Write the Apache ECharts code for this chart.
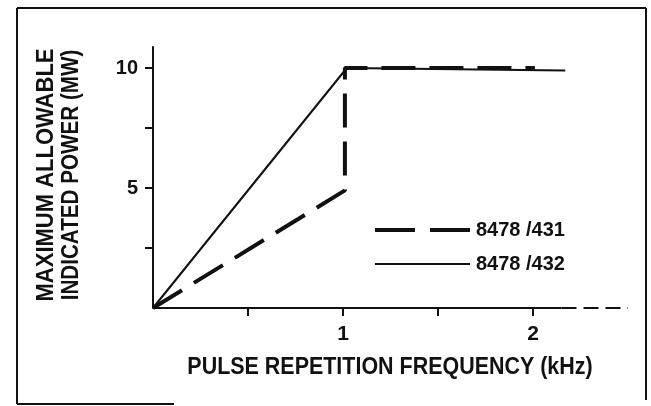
<!DOCTYPE html>
<html>
<head>
<meta charset="utf-8">
<script src="https://cdn.jsdelivr.net/npm/echarts@6/dist/echarts.min.js"></script>
<style>
html,body{margin:0;padding:0;background:#fff;}
#chart{width:651px;height:406px;}
</style>
</head>
<body>
<div id="chart"></div>
<script>
// Data
const seriesNames = ['8478 /431', '8478 /432'];
const series431 = [[0, 0], [1.01, 4.9], [1.01, 10], [2.01, 10]];
const series432 = [[0, 0], [1.02, 10], [2.17, 9.9]];
const baselineSolid = [[0, 0], [2.15, 0]];
const baselineDashed = [[2.15, 0], [2.5, 0]];
const xTickValues = [0.5, 1, 1.5, 2];
const xLabelValues = [1, 2];
const yTickValues = [2.5, 5, 7.5, 10];
const yLabelValues = [5, 10];
const xTitle = 'PULSE REPETITION FREQUENCY (kHz)';
const yTitleLines = ['MAXIMUM ALLOWABLE', 'INDICATED POWER (MW)'];

const ink = '#111';
const font = '"Liberation Sans", Arial, sans-serif';

const chart = echarts.init(document.getElementById('chart'), null, {renderer: 'canvas'});
chart.setOption({
  backgroundColor: '#fff',
  animation: false,
  grid: {left: 153, right: 23, top: 47, bottom: 98},
  legend: {
    orient: 'vertical',
    left: 370,
    top: 215,
    itemWidth: 95,
    itemHeight: 4,
    itemGap: 14,
    itemStyle: {color: ink, borderWidth: 0},
    textStyle: {color: ink, fontFamily: font, fontWeight: 'bold', fontSize: 20, padding: [0, 0, 0, 1]},
    data: [
      {name: seriesNames[0], icon: 'path://M0,0h40v4h-40zM55,0h40v4h-40z'},
      {name: seriesNames[1], icon: 'path://M0,0h0.05v4h-0.05zM0,1.1h95v1.8h-95z'}
    ]
  },
  xAxis: {
    type: 'value', min: 0, max: 2.5,
    axisLine: {show: false},
    splitLine: {show: false},
    axisTick: {show: true, customValues: xTickValues, length: 8, lineStyle: {color: ink, width: 2}},
    axisLabel: {customValues: xLabelValues, margin: 16, color: ink, fontFamily: font, fontWeight: 'bold', fontSize: 21}
  },
  yAxis: {
    type: 'value', min: 0, max: 10.875,
    axisLine: {show: true, lineStyle: {color: ink, width: 2}},
    splitLine: {show: false},
    axisTick: {show: true, customValues: yTickValues, length: 8, lineStyle: {color: ink, width: 2}},
    axisLabel: {customValues: yLabelValues, margin: 15, color: ink, fontFamily: font, fontWeight: 'bold', fontSize: 20}
  },
  series: [
    {name: seriesNames[0], type: 'line', data: series431, symbol: 'none', z: 4,
     lineStyle: {color: ink, width: 4, type: [34, 14]}, itemStyle: {color: ink}},
    {name: seriesNames[1], type: 'line', data: series432, symbol: 'none', z: 3,
     lineStyle: {color: ink, width: 2}, itemStyle: {color: ink}},
    {name: 'baseSolid', type: 'line', data: baselineSolid, symbol: 'none', silent: true,
     lineStyle: {color: ink, width: 2}},
    {name: 'baseDashed', type: 'line', data: baselineDashed, symbol: 'none', silent: true, clip: false,
     lineStyle: {color: ink, width: 2, type: [15, 7]}}
  ],
  graphic: [
    {type: 'line', shape: {x1: 17, y1: 8, x2: 646, y2: 8}, style: {stroke: ink, lineWidth: 2}},
    {type: 'line', shape: {x1: 17, y1: 8, x2: 17, y2: 404}, style: {stroke: ink, lineWidth: 2}},
    {type: 'line', shape: {x1: 646, y1: 8, x2: 646, y2: 400}, style: {stroke: ink, lineWidth: 2}},
    {type: 'line', shape: {x1: 17, y1: 404, x2: 174, y2: 404}, style: {stroke: ink, lineWidth: 2}},
    {type: 'text', x: 390, y: 367, scaleX: 0.894,
     style: {text: xTitle, x: 0, y: 0, align: 'center', verticalAlign: 'middle', fill: ink,
             font: 'bold 24px ' + font}},
    {type: 'text', x: 46, y: 175, rotation: Math.PI / 2, scaleX: 0.917,
     style: {text: yTitleLines[0], x: 0, y: 0, align: 'center', verticalAlign: 'middle', fill: ink,
             font: 'bold 24px ' + font}},
    {type: 'text', x: 71, y: 175, rotation: Math.PI / 2, scaleX: 0.86,
     style: {text: yTitleLines[1], x: 0, y: 0, align: 'center', verticalAlign: 'middle', fill: ink,
             font: 'bold 24px ' + font}}
  ]
});
</script>
</body>
</html>
